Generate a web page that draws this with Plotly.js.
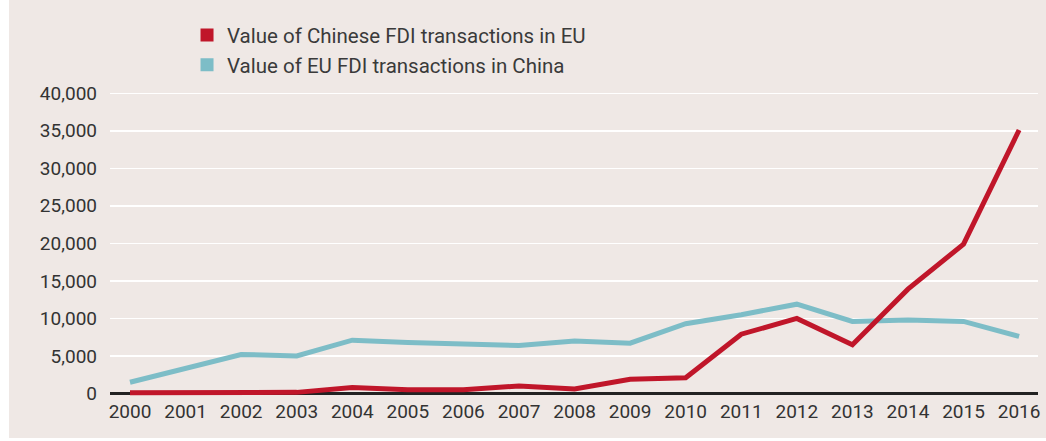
<!DOCTYPE html>
<html>
<head>
<meta charset="utf-8">
<script src="https://cdn.plot.ly/plotly-3.0.1.min.js"></script>
<style>html,body{margin:0;padding:0;background:#fff;}#chart{width:1046px;height:441px;}</style>
</head>
<body>
<div id="chart"></div>
<script>
const years = [2000,2001,2002,2003,2004,2005,2006,2007,2008,2009,2010,2011,2012,2013,2014,2015,2016];
const chineseFdiInEU = [100,150,50,150,800,500,500,1000,600,1900,2100,7900,10000,6500,13900,19900,35100];
const euFdiInChina = [1500,3400,5200,5000,7100,6800,6600,6400,7000,6700,9300,10500,11900,9600,9800,9600,7600];
const seriesNames = ['Value of Chinese FDI transactions in EU','Value of EU FDI transactions in China'];
const yTicks = [0,5000,10000,15000,20000,25000,30000,35000,40000];
const yTickLabels = ['0','5,000','10,000','15,000','20,000','25,000','30,000','35,000','40,000'];

const red = '#C0162A';
const teal = '#7DBDC7';
const bg = '#EFE8E5';

const traces = [
  {x: years, y: euFdiInChina, mode: 'lines', line: {color: teal, width: 5}, showlegend: false, hoverinfo: 'skip'},
  {x: years, y: chineseFdiInEU, mode: 'lines', line: {color: red, width: 5}, showlegend: false, hoverinfo: 'skip'},
  {x: [null], y: [null], mode: 'markers', name: seriesNames[0], marker: {symbol: 'square', size: 13, color: red}},
  {x: [null], y: [null], mode: 'markers', name: seriesNames[1], marker: {symbol: 'square', size: 13, color: teal}}
];

const layout = {
  width: 1046, height: 441,
  margin: {l: 110, r: 8, t: 90.5, b: 42.5, pad: 0},
  paper_bgcolor: '#FFFFFF',
  plot_bgcolor: bg,
  font: {family: 'Roboto, sans-serif', size: 19, color: '#333333'},
  showlegend: true,
  legend: {x: 0.083, y: 1.247, xanchor: 'left', yanchor: 'top', bgcolor: 'rgba(0,0,0,0)',
           font: {size: 20.5, color: '#3a3a3a', family: 'Roboto, sans-serif'}, tracegroupgap: 0, itemwidth: 30},
  xaxis: {range: [1999.64, 2016.34], tickmode: 'array', tickvals: years, ticktext: years.map(String),
          showgrid: false, zeroline: false, showline: false, ticks: '', fixedrange: true,
          tickfont: {size: 19, color: '#333333'}},
  yaxis: {range: [-600, 40300], tickmode: 'array', tickvals: yTicks, ticktext: yTickLabels,
          showgrid: true, gridcolor: '#FFFFFF', gridwidth: 1.5, zeroline: true, zerolinecolor: '#222222',
          zerolinewidth: 2.5, showline: false, ticks: '', ticklabelstandoff: 12, fixedrange: true,
          tickfont: {size: 19, color: '#333333'}},
  shapes: [{type: 'rect', xref: 'paper', yref: 'paper', x0: -0.1088, x1: 1.01, y0: -0.13, y1: 1.32,
            fillcolor: bg, line: {width: 0}, layer: 'below'}]
};

Plotly.newPlot('chart', traces, layout, {displayModeBar: false, staticPlot: true});
</script>
</body>
</html>
